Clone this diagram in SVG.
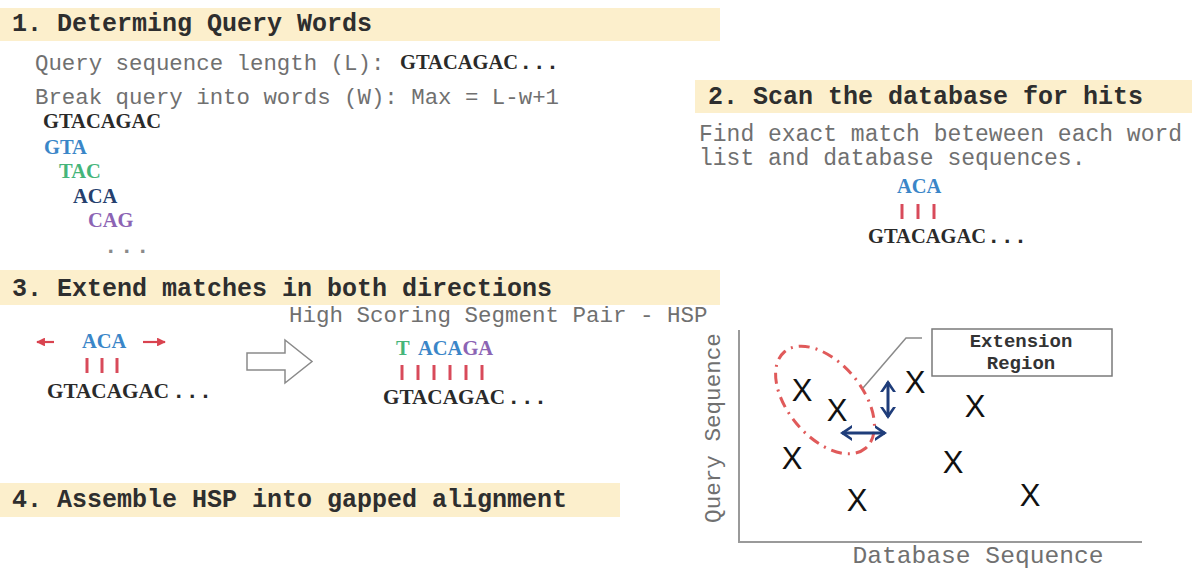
<svg xmlns="http://www.w3.org/2000/svg" width="1192" height="569" viewBox="0 0 1192 569">
  <defs>
    <marker id="redHead" viewBox="0 0 10 10" refX="9" refY="5" markerWidth="4" markerHeight="4" orient="auto-start-reverse" markerUnits="strokeWidth">
      <path d="M0,0 L10,5 L0,10 Z" fill="#d9434f"/>
    </marker>
    <marker id="navyHead" viewBox="0 0 12 16" refX="10" refY="8" markerWidth="12" markerHeight="16" orient="auto-start-reverse" markerUnits="userSpaceOnUse">
      <path d="M0,0 L12,8 L0,16 L0,13 L7,8 L0,3 Z" fill="#1f3d7a"/>
    </marker>
  </defs>
  <style>
    .band { fill: #fcefcc; }
    .head { font-family: "Liberation Mono", "Courier New", monospace; font-weight: bold; font-size: 25px; fill: #2e2e2e; }
    .mono { font-family: "Liberation Mono", "Courier New", monospace; font-size: 22.4px; fill: #707070; }
    .seq { font-family: "Liberation Serif", "Times New Roman", serif; font-weight: bold; font-size: 20.5px; fill: #2a2a2a; }
    .dots { font-family: "Liberation Mono", "Courier New", monospace; font-weight: bold; font-size: 22.4px; fill: #2a2a2a; }
    .blue { fill: #3a86c8; }
    .green { fill: #45b57a; }
    .navy { fill: #25406e; }
    .purple { fill: #8c64b4; }
    .bar { stroke: #d84a5a; stroke-width: 3; }
    .x { font-family: "Liberation Sans", Arial, sans-serif; font-size: 31px; fill: #111; text-anchor: middle; }
    .axis { stroke: #9a9a9a; stroke-width: 2; fill: none; }
  </style>

  <rect width="1192" height="569" fill="#ffffff"/>

  <!-- Step 1: query words -->
  <g id="step1">
    <rect class="band" x="0" y="8" width="720" height="33"/>
    <text class="head" x="12" y="31">1. Determing Query Words</text>
    <text class="mono" x="35" y="70">Query sequence length (L):</text>
    <text class="seq" x="400" y="69">GTACAGAC</text>
    <text class="dots" x="519" y="69">...</text>
    <text class="mono" x="35" y="104">Break query into words (W): Max = L-w+1</text>
    <text class="seq" x="43" y="128">GTACAGAC</text>
    <text class="seq blue" x="44" y="154">GTA</text>
    <text class="seq green" x="59" y="178">TAC</text>
    <text class="seq navy" x="73" y="203">ACA</text>
    <text class="seq purple" x="88" y="227">CAG</text>
    <text class="dots" x="104" y="253" style="fill:#8a8a8a; letter-spacing:2.6px">...</text>
  </g>

  <!-- Step 2: scan database -->
  <g id="step2">
    <rect class="band" x="695" y="80" width="497" height="33"/>
    <text class="head" x="708" y="104">2. Scan the database for hits</text>
    <text class="mono" x="699" y="141" style="font-size:23px">Find exact match beteween each word</text>
    <text class="mono" x="699" y="165" style="font-size:23px">list and database sequences.</text>
    <text class="seq blue" x="897" y="193">ACA</text>
    <line class="bar" x1="902" y1="204" x2="902" y2="219"/>
    <line class="bar" x1="918" y1="204" x2="918" y2="219"/>
    <line class="bar" x1="934" y1="204" x2="934" y2="219"/>
    <text class="seq" x="868" y="243">GTACAGAC</text>
    <text class="dots" x="987" y="243">...</text>
  </g>

  <!-- Step 3: extend matches -->
  <g id="step3">
    <rect class="band" x="0" y="270" width="720" height="35"/>
    <text class="head" x="12" y="296">3. Extend matches in both directions</text>
    <line x1="54" y1="342" x2="37" y2="342" stroke="#d9434f" stroke-width="2.2" marker-end="url(#redHead)"/>
    <line x1="143" y1="342" x2="165" y2="342" stroke="#d9434f" stroke-width="2.2" marker-end="url(#redHead)"/>
    <text class="seq blue" x="82" y="348">ACA</text>
    <line class="bar" x1="87" y1="358" x2="87" y2="373"/>
    <line class="bar" x1="102" y1="358" x2="102" y2="373"/>
    <line class="bar" x1="117" y1="358" x2="117" y2="373"/>
    <text class="seq" x="47" y="398" style="font-size:21.2px">GTACAGAC</text>
    <text class="dots" x="172" y="398">...</text>
  </g>

  <g id="extend-arrow">
    <path d="M247,353 L285,353 L285,340 L312,361.5 L285,383 L285,370 L247,370 Z" fill="#ffffff" stroke="#8a8a8a" stroke-width="1.5" stroke-linejoin="miter"/>
  </g>

  <g id="hsp">
    <text class="mono" x="289" y="322" style="font-size:22.5px">High Scoring Segment Pair - HSP</text>
    <text class="seq green" x="396" y="355">T</text>
    <text class="seq" x="418" y="355"><tspan class="blue">ACA</tspan><tspan class="purple">GA</tspan></text>
    <line class="bar" x1="402" y1="365" x2="402" y2="380"/>
    <line class="bar" x1="418" y1="365" x2="418" y2="380"/>
    <line class="bar" x1="434" y1="365" x2="434" y2="380"/>
    <line class="bar" x1="450" y1="365" x2="450" y2="380"/>
    <line class="bar" x1="466" y1="365" x2="466" y2="380"/>
    <line class="bar" x1="482" y1="365" x2="482" y2="380"/>
    <text class="seq" x="383" y="404" style="font-size:21.2px">GTACAGAC</text>
    <text class="dots" x="507" y="404">...</text>
  </g>

  <!-- Step 4: gapped alignment -->
  <g id="step4">
    <rect class="band" x="0" y="483" width="620" height="34"/>
    <text class="head" x="12" y="507">4. Assemble HSP into gapped alignment</text>
  </g>

  <!-- Dot plot of hits -->
  <g id="plot">
    <path class="axis" d="M739,330 L739,542 L1142,542"/>
    <text class="mono" transform="translate(720,428) rotate(-90)" text-anchor="middle" style="font-size:22.6px">Query Sequence</text>
    <text class="mono" x="978" y="563" text-anchor="middle" style="font-size:24.6px">Database Sequence</text>
    <ellipse cx="825" cy="400" rx="63" ry="37" transform="rotate(50 825 400)" fill="none" stroke="#e05a5a" stroke-width="3" stroke-dasharray="11 6 2 6"/>
    <text class="x" x="802" y="401">X</text>
    <text class="x" x="837" y="421">X</text>
    <text class="x" x="915" y="393">X</text>
    <text class="x" x="975" y="417">X</text>
    <text class="x" x="792" y="469">X</text>
    <text class="x" x="953" y="473">X</text>
    <text class="x" x="857" y="511">X</text>
    <text class="x" x="1030" y="506">X</text>
  </g>

  <g id="extension-region">
    <rect x="932" y="329" width="180" height="47" fill="#ffffff" stroke="#7a7a7a" stroke-width="1.5"/>
    <text class="dots" x="1021" y="347" text-anchor="middle" style="font-size:19px;fill:#333">Extension</text>
    <text class="dots" x="1021" y="369" text-anchor="middle" style="font-size:19px;fill:#333">Region</text>
  </g>

  <g id="connectors">
    <polyline points="863,388 906,338 922,338" fill="none" stroke="#8a8a8a" stroke-width="1.5"/>
    <line x1="888" y1="382" x2="888" y2="417" stroke="#1f3d7a" stroke-width="3" marker-start="url(#navyHead)" marker-end="url(#navyHead)"/>
    <line x1="842" y1="433" x2="885" y2="433" stroke="#1f3d7a" stroke-width="3" marker-start="url(#navyHead)" marker-end="url(#navyHead)"/>
  </g>
</svg>
